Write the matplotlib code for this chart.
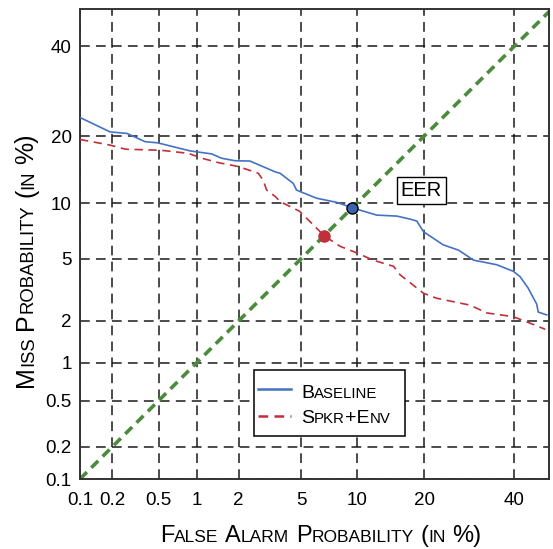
import matplotlib
matplotlib.use("Agg")
import matplotlib.pyplot as plt
from matplotlib.patches import Rectangle
from statistics import NormalDist

plt.rcParams["font.family"] = "Liberation Sans"
plt.rcParams["lines.scale_dashes"] = False

# DET curve values (percent)
baseline_fa = [0.1, 0.19, 0.27, 0.385, 0.49, 0.89, 1.29, 1.52, 1.89, 2.39, 3.48, 3.73,
               4.48, 4.7, 6.1, 7.9, 9.6, 12.5, 15.4, 17.5, 18.7, 19.9, 23.7, 26.9,
               30.2, 35.7, 39.8, 41.5, 43.6, 45.8, 46.2, 48.4]
baseline_miss = [23.6, 20.8, 20.5, 19.0, 18.8, 17.4, 16.9, 16.2, 15.8, 15.75, 14.1, 13.9,
                 12.5, 11.6, 10.6, 10.1, 9.45, 8.7, 8.6, 8.3, 8.1, 7.1, 6.0, 5.6,
                 4.9, 4.6, 4.2, 3.9, 3.3, 2.6, 2.3, 2.2]
spkrenv_fa = [0.1, 0.19, 0.26, 0.53, 0.86, 1.09, 1.44, 1.99, 2.71, 2.92, 3.07, 3.48,
              3.73, 4.9, 6.75, 8.2, 10.0, 12.0, 14.9, 15.9, 19.9, 22.4, 29.4, 33.3,
              39.8, 44.1, 48.0]
spkrenv_miss = [19.4, 18.4, 17.7, 17.5, 17.0, 16.2, 15.5, 14.9, 13.9, 12.9, 11.6, 10.8,
                10.2, 9.1, 6.75, 5.9, 5.4, 4.9, 4.5, 4.0, 3.06, 2.84, 2.56, 2.27,
                2.14, 1.93, 1.75]
eer_baseline = 9.5
eer_spkrenv = 6.75
tick_vals = [0.1, 0.2, 0.5, 1, 2, 5, 10, 20, 40]
tick_labels = ["0.1", "0.2", "0.5", "1", "2", "5", "10", "20", "40"]

nd = NormalDist()
def probit(p):
    'percent -> normal deviate'
    return [nd.inv_cdf(v / 100.0) for v in p]

fig = plt.figure(figsize=(5.53, 5.49), dpi=100)
ax = fig.add_axes([80/553, 70/549, 469/553, 470/549])

ax.set_xlim(probit([0.1])[0], probit([49.0])[0])
ax.set_ylim(probit([0.1])[0], probit([49.7])[0])
ax.set_xticks(probit(tick_vals))
ax.set_xticklabels(tick_labels)
ax.set_yticks(probit(tick_vals))
ax.set_yticklabels(tick_labels)
ax.tick_params(length=0, labelsize=13.5)
ax.tick_params(axis="x", pad=9.5)
ax.tick_params(axis="y", pad=6)
ax.grid(True, ls=(0, (7, 4.5)), color="#1a1a1a", lw=1.1)
ax.set_axisbelow(True)
for s in ax.spines.values():
    s.set_color("#333333")
    s.set_linewidth(1.4)

# diagonal
ax.plot(probit([0.1, 49.7]), probit([0.1, 49.7]), color="#4a8b3c", lw=2.6,
        ls=(0, (7, 4.5)), zorder=2)
ax.plot(probit(baseline_fa), probit(baseline_miss), color="#4472c4", lw=1.2, zorder=3)
ax.plot(probit(spkrenv_fa), probit(spkrenv_miss), color="#c0303a", lw=1.2,
        ls=(0, (6, 4)), zorder=3)
ax.plot(probit([eer_baseline]), probit([eer_baseline]), "o", color="#3a63b0", mec="k",
        mew=1.0, ms=8, zorder=4)
ax.plot(probit([eer_spkrenv]), probit([eer_spkrenv]), "o", color="#c0303a", mec="#c0303a",
        ms=8, zorder=4)

ax.text(probit([19.5])[0], probit([11.55])[0], "EER", fontsize=14.5, ha="center", va="center",
        bbox=dict(boxstyle="square,pad=0.2", fc="w", ec="k", lw=1.0), zorder=5)

def smallcaps(parts, x0, y0, coords, big, small, rot=False, zorder=6):
    'chain text pieces to fake small caps; gap is a big-size space'
    prev = None
    for txt, is_big, gap in parts:
        if prev is None:
            xy, xyc = (x0, y0), coords
        elif rot:
            xy, xyc = (x0, 1), (coords, prev)
        else:
            xy, xyc = (1, y0), (prev, coords)
        g = gap * 0.278 * big
        off = (0, g) if rot else (g, 0)
        prev = ax.annotate(txt, xy=xy, xycoords=xyc, xytext=off, textcoords="offset points",
                           fontsize=big if is_big else small, rotation=90 if rot else 0,
                           rotation_mode="anchor", ha="left", va="baseline",
                           annotation_clip=False, zorder=zorder)

# axis labels
smallcaps([("F", 1, 0), ("ALSE", 0, 0), ("A", 1, 1), ("LARM", 0, 0), ("P", 1, 1),
           ("ROBABILITY", 0, 0), ("(", 1, 1), ("IN", 0, 0), ("%)", 1, 1)],
          160, 7, "figure pixels", 17, 12.5)
smallcaps([("M", 1, 0), ("ISS", 0, 0), ("P", 1, 1), ("ROBABILITY", 0, 0), ("(", 1, 1),
           ("IN", 0, 0), ("%)", 1, 1)],
          33, 162, "figure pixels", 18, 13.3, rot=True)

# legend drawn by hand
ax.add_patch(Rectangle((0.371, 0.0915), 0.322, 0.1405, transform=ax.transAxes,
                       fc="w", ec="k", lw=1.1, zorder=5))
ax.plot([0.38, 0.45], [0.1915, 0.1915], transform=ax.transAxes, color="#4472c4", lw=1.8, zorder=6)
ax.plot([0.38, 0.45], [0.134, 0.134], transform=ax.transAxes, color="#c0303a", lw=1.8,
        ls=(0, (7, 4.5)), zorder=6)
smallcaps([("B", 1, 0), ("ASELINE", 0, 0)], 0.471, 0.172, "axes fraction", 14, 10.8)
smallcaps([("S", 1, 0), ("PKR", 0, 0), ("+E", 1, 0), ("NV", 0, 0)], 0.471, 0.119,
          "axes fraction", 14, 10.8)

fig.savefig("out.png", dpi=100)
